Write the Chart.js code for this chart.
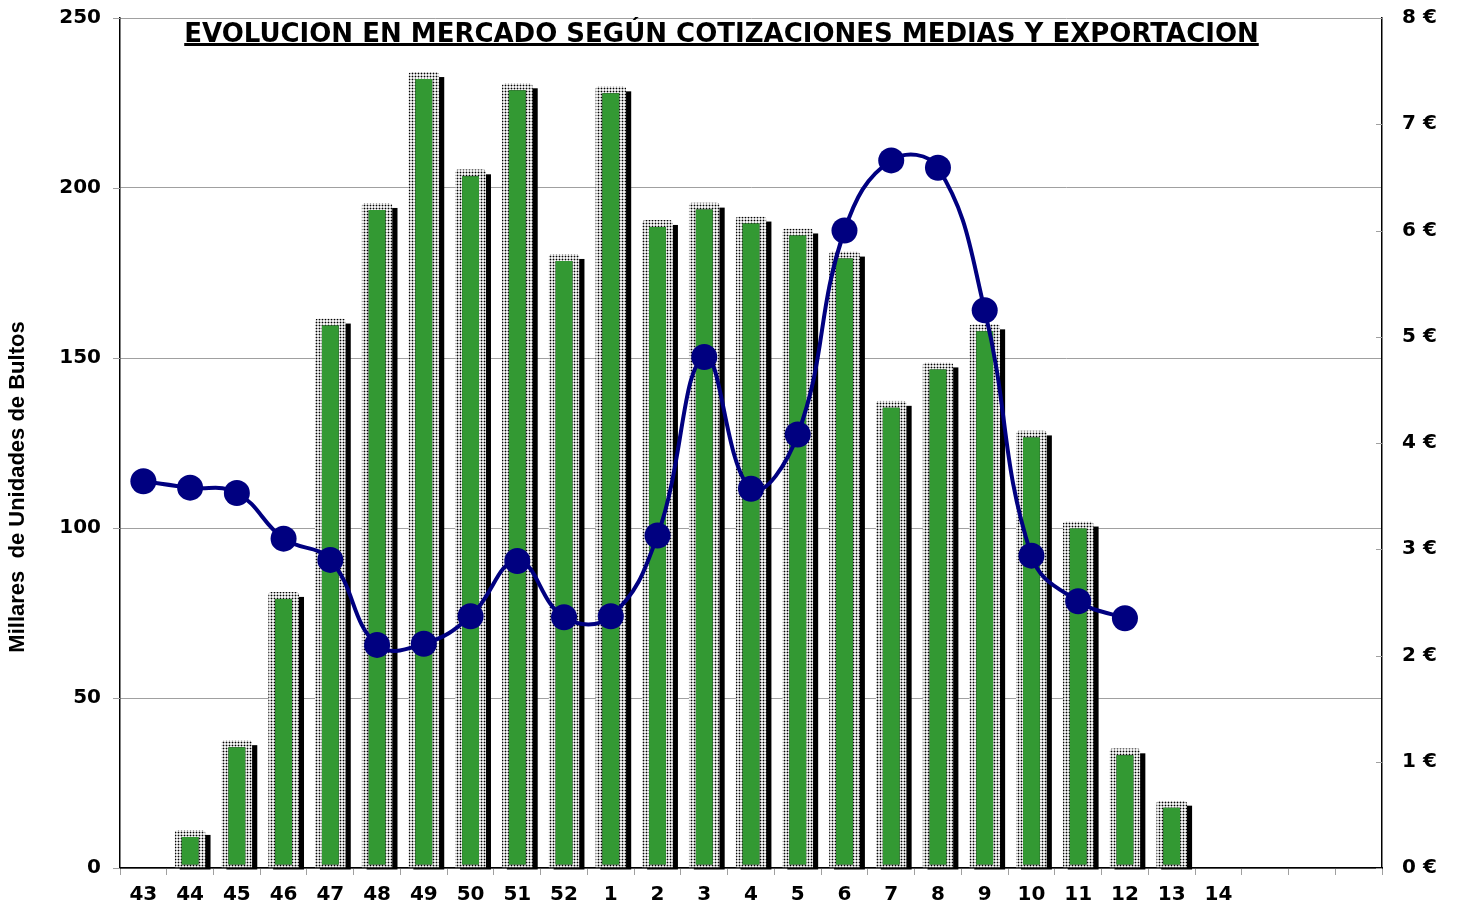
<!DOCTYPE html>
<html lang="es">
<head>
<meta charset="utf-8">
<title>Evolución en mercado</title>
<script src="https://cdn.jsdelivr.net/npm/chart.js@4.4.1/dist/chart.umd.min.js"></script>
<style>
  html, body { margin: 0; padding: 0; background: #fff; }
  #wrap { position: relative; width: 1457px; height: 905px; }
</style>
</head>
<body>
<div id="wrap"><canvas id="chart"></canvas></div>
<script>
// Semanas (campaña) - las 3 últimas casillas van vacías
const SEMANAS = ['43','44','45','46','47','48','49','50','51','52',
  '1','2','3','4','5','6','7','8','9','10','11','12','13','14','','',''];

// Millares de unidades de bultos (barras, eje izq.)
const BULTOS = [null, 11.2, 37.6, 81.2, 161.6, 195.6, 234.1, 205.5, 230.8, 180.6,
  229.9, 190.6, 195.7, 191.6, 188.1, 181.3, 137.4, 148.7, 159.9, 128.7, 101.9, 35.2, 19.8,
  null, null, null, null];

// Cotización media en € (línea, eje dcho.)
const PRECIO = [3.64, 3.58, 3.53, 3.10, 2.90, 2.10, 2.11, 2.37, 2.89, 2.36,
  2.37, 3.13, 4.81, 3.57, 4.08, 6.00, 6.66, 6.59, 5.25, 2.94, 2.51, 2.35,
  null, null, null, null, null];

const TITULO = 'EVOLUCION EN MERCADO SEGÚN COTIZACIONES MEDIAS Y EXPORTACION';
const TITULO_Y = 'Millares  de Unidades de Bultos';

const NAVY = '#000080';
const VERDE = '#339933';
const GRIS = '#a0a0a0';
const TICK_FONT = { family: '"DejaVu Sans", Verdana, sans-serif', size: 20, weight: 'bold' };

// Trama punteada del marco de las barras
function dotPattern(){
  const c = document.createElement('canvas');
  c.width = 3; c.height = 3;
  const g = c.getContext('2d');
  g.fillStyle = '#f2f2f2'; g.fillRect(0, 0, 3, 3);
  g.fillStyle = '#a8a8a8';
  g.fillRect(0, 1, 1, 1); g.fillRect(2, 1, 1, 1);
  g.fillRect(1, 0, 1, 1); g.fillRect(1, 2, 1, 1);
  g.fillStyle = '#000'; g.fillRect(1, 1, 1, 1);
  return g.createPattern(c, 'repeat');
}

// Sombra negra desplazada detrás de cada barra
const shadowPlugin = {
  id: 'barShadow',
  beforeDatasetsDraw(chart){
    const ctx = chart.ctx;
    chart.data.datasets.forEach((ds, i) => {
      if (ds.type !== 'bar') return;
      const meta = chart.getDatasetMeta(i);
      ctx.save();
      ctx.fillStyle = '#000';
      meta.data.forEach((el, j) => {
        if (ds.data[j] == null) return;
        const { x, y, base, width } = el.getProps(['x','y','base','width'], true);
        ctx.fillRect(x - width/2 + 5, y + 5, width, base - y - 3);
      });
      ctx.restore();
    });
  }
};

// marcas cortas de un eje vertical (de x0 a x1)
function drawTicks(ctx, scale, x0, x1){
  ctx.save();
  ctx.strokeStyle = GRIS;
  ctx.lineWidth = 1;
  scale.ticks.forEach(t => {
    const py = Math.round(scale.getPixelForValue(t.value)) + 0.5;
    ctx.beginPath();
    ctx.moveTo(x0, py);
    ctx.lineTo(x1, py);
    ctx.stroke();
  });
  ctx.restore();
}

// Título subrayado, título del eje Y y marcas de los ejes verticales
const textPlugin = {
  id: 'textos',
  afterDraw(chart){
    const ctx = chart.ctx;
    const area = chart.chartArea;
    ctx.save();

    // título
    ctx.font = 'bold 26px "DejaVu Sans", Verdana, sans-serif';
    ctx.fillStyle = '#000';
    ctx.textAlign = 'center';
    ctx.textBaseline = 'alphabetic';
    const tx = 721.5, ty = 41.5;
    ctx.fillText(TITULO, tx, ty);
    const w = ctx.measureText(TITULO).width;
    ctx.fillRect(tx - w/2, 43, w, 3);

    // título eje Y
    ctx.translate(18, 487);
    ctx.rotate(-Math.PI/2);
    ctx.font = 'bold 22px "Liberation Sans", Arial, sans-serif';
    ctx.textBaseline = 'middle';
    ctx.fillText(TITULO_Y, 0, 0);
    ctx.restore();

    drawTicks(ctx, chart.scales.y, area.left - 7, area.left);    // hacia fuera
    drawTicks(ctx, chart.scales.y1, area.right - 6, area.right); // hacia dentro
  }
};

const ctx = document.getElementById('chart');
new Chart(ctx, {
  data: {
    labels: SEMANAS,
    datasets: [
      {
        type: 'line',
        label: 'Cotización media',
        data: PRECIO,
        yAxisID: 'y1',
        order: 0,
        borderColor: NAVY,
        borderWidth: 4,
        tension: 0.42,
        pointRadius: 13,
        pointBackgroundColor: NAVY,
        pointBorderColor: NAVY,
        pointBorderWidth: 0
      },
      {
        type: 'bar',
        label: 'Exportación',
        data: BULTOS,
        yAxisID: 'y',
        order: 1,
        backgroundColor: VERDE,
        borderColor: dotPattern(),
        borderWidth: { top: 7, left: 7, right: 7, bottom: 3 },
        borderSkipped: false,
        borderRadius: { topLeft: 3, topRight: 3, bottomLeft: 0, bottomRight: 0 },
        barPercentage: 0.66,
        categoryPercentage: 1
      }
    ]
  },
  options: {
    responsive: true,
    maintainAspectRatio: false,
    animation: false,
    layout: { padding: { top: 18, left: 0, right: 0, bottom: 0 } },
    plugins: {
      legend: { display: false },
      tooltip: { enabled: false }
    },
    scales: {
      x: {
        offset: true,
        grid: { offset: true, drawOnChartArea: false, tickLength: 7, color: GRIS },
        border: { color: '#000', width: 1.5 },
        ticks: { font: TICK_FONT, color: '#000', padding: 8, maxRotation: 0, autoSkip: false },
        afterFit(s){ s.height = 37; }
      },
      y: {
        position: 'left',
        min: 0, max: 250,
        ticks: { stepSize: 50, font: TICK_FONT, color: '#000', padding: 0 },
        grid: { color: GRIS, tickLength: 19, tickColor: 'transparent' },
        border: { color: '#000', width: 1.5 },
        afterFit(s){ s.width = 120; }
      },
      y1: {
        position: 'right',
        min: 0, max: 8,
        ticks: { stepSize: 1, font: TICK_FONT, color: '#000', padding: 0,
          callback: v => v + ' €' },
        grid: { drawOnChartArea: false, tickLength: 20, tickColor: 'transparent' },
        border: { color: '#000', width: 1.5 },
        afterFit(s){ s.width = 75; }
      }
    }
  },
  plugins: [shadowPlugin, textPlugin]
});
</script>
</body>
</html>
